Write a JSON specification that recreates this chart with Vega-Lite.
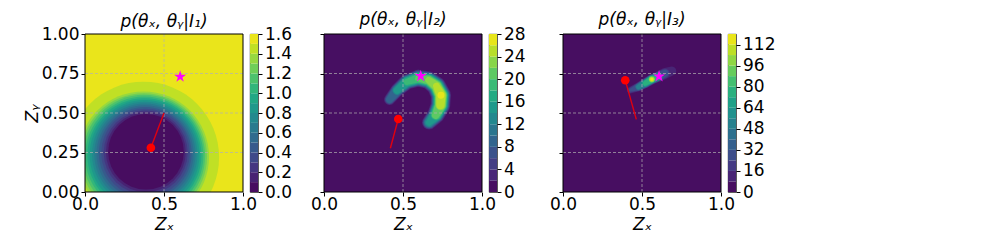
{
  "$schema": "https://vega.github.io/schema/vega-lite/v6.json",
  "padding": {"left": 23, "top": 10, "right": 5, "bottom": 5},
  "background": "white",
  "config": {
    "font": "DejaVu Sans",
    "view": {"stroke": null},
    "axis": {"labelFont": "DejaVu Sans", "labelFontSize": 17, "labelColor": "black", "titleFont": "DejaVu Sans", "titleFontSize": 17, "titleFontWeight": "normal", "titleFontStyle": "italic", "titleColor": "black", "tickColor": "black", "tickSize": 4, "tickWidth": 1, "domain": false, "grid": false, "labelFlush": false, "labelOverlap": false, "labelSeparation": -60, "labelBound": false},
    "title": {"font": "DejaVu Sans", "fontSize": 17, "fontWeight": "normal", "fontStyle": "italic", "color": "black", "anchor": "middle", "frame": "group"}
  },
  "spacing": 7,
  "bounds": "flush",
  "resolve": {"scale": {"x": "independent", "y": "independent", "color": "independent", "size": "independent"}},
  "hconcat": [
    {
      "width": 158, "height": 158,
      "title": {"text": "p(θₓ, θᵧ|I₁)", "offset": -5.5},
      "encoding": {
        "x": {"field": "x", "type": "quantitative", "scale": {"domain": [0, 1], "nice": false, "zero": false}, "axis": {"values": [0, 0.5, 1], "format": ".1f", "title": "Zₓ", "labelPadding": 0.5, "titlePadding": 4, "labelOverlap": false, "labelSeparation": -60}},
        "y": {"field": "y", "type": "quantitative", "scale": {"domain": [0, 1], "nice": false, "zero": false}, "axis": {"values": [0, 0.25, 0.5, 0.75, 1], "format": ".2f", "title": "Zᵧ", "labelPadding": 2, "titlePadding": 0, "labelOverlap": false, "labelSeparation": -60}}
      },
      "layer": [
        {"data": {"values": [
          {"x": 0.370, "y": 0.220, "r": 2.000, "v": 1.55},
          {"x": 0.370, "y": 0.220, "r": 0.540, "v": 1.45},
          {"x": 0.371, "y": 0.2225, "r": 0.4675, "v": 1.35},
          {"x": 0.372, "y": 0.225, "r": 0.452, "v": 1.25},
          {"x": 0.373, "y": 0.2275, "r": 0.437, "v": 1.15},
          {"x": 0.375, "y": 0.230, "r": 0.422, "v": 1.05},
          {"x": 0.376, "y": 0.2325, "r": 0.407, "v": 0.95},
          {"x": 0.377, "y": 0.235, "r": 0.392, "v": 0.85},
          {"x": 0.378, "y": 0.2375, "r": 0.376, "v": 0.75},
          {"x": 0.379, "y": 0.240, "r": 0.361, "v": 0.65},
          {"x": 0.380, "y": 0.2425, "r": 0.346, "v": 0.55},
          {"x": 0.381, "y": 0.245, "r": 0.331, "v": 0.45},
          {"x": 0.383, "y": 0.2475, "r": 0.316, "v": 0.35},
          {"x": 0.384, "y": 0.250, "r": 0.300, "v": 0.25},
          {"x": 0.385, "y": 0.2525, "r": 0.285, "v": 0.15},
          {"x": 0.386, "y": 0.255, "r": 0.270, "v": 0.05}
        ]},
         "mark": {"type": "point", "shape": "circle", "filled": true, "opacity": 1, "strokeWidth": 0, "clip": true},
         "encoding": {
           "size": {"field": "r", "type": "quantitative", "scale": {"type": "pow", "exponent": 2, "domain": [0, 1], "range": [0, 78430]}, "legend": null},
           "color": {"field": "v", "type": "quantitative", "scale": {"scheme": "viridis", "domain": [0, 1.6]}, "legend": null}
         }},
        {"data": {"values": [
          {"k": "a", "o": 0, "x": 0, "y": 0.25}, {"k": "a", "o": 1, "x": 1, "y": 0.25},
          {"k": "b", "o": 0, "x": 0, "y": 0.5}, {"k": "b", "o": 1, "x": 1, "y": 0.5},
          {"k": "c", "o": 0, "x": 0, "y": 0.75}, {"k": "c", "o": 1, "x": 1, "y": 0.75},
          {"k": "d", "o": 0, "x": 0.5, "y": 0}, {"k": "d", "o": 1, "x": 0.5, "y": 1}
        ]},
         "mark": {"type": "line", "color": "#b0b0b0", "opacity": 0.7, "strokeDash": [3, 2], "strokeWidth": 1},
         "encoding": {"detail": {"field": "k"}, "order": {"field": "o"}}},
        {"data": {"values": [{"x": 0.417, "y": 0.28, "o": 0}, {"x": 0.50, "y": 0.50, "o": 1}]}, "mark": {"type": "line", "color": "#e00010", "strokeWidth": 1.4}, "encoding": {"order": {"field": "o"}}},
        {"data": {"values": [{"x": 0.417, "y": 0.28}]}, "mark": {"type": "point", "shape": "circle", "filled": true, "color": "#ff0000", "opacity": 1, "size": 75}, "encoding": {}},
        {"data": {"values": [{"x": 0.602, "y": 0.73}]}, "mark": {"type": "point", "shape": "M0,-1L0.225,-0.309L0.951,-0.309L0.363,0.118L0.588,0.809L0,0.382L-0.588,0.809L-0.363,0.118L-0.951,-0.309L-0.225,-0.309Z", "filled": true, "color": "#ff00ff", "opacity": 1, "size": 160}, "encoding": {}},
        {"data": {"values": [{"o": 0, "x": 0, "y": 0}, {"o": 1, "x": 1, "y": 0}, {"o": 2, "x": 1, "y": 1}, {"o": 3, "x": 0, "y": 1}, {"o": 4, "x": 0, "y": 0}]}, "mark": {"type": "line", "color": "black", "strokeWidth": 1}, "encoding": {"order": {"field": "o"}}}
      ]
    },
    {
      "width": 8, "height": 158,
      "view": {"stroke": "black", "strokeWidth": 0.8},
      "data": {"values": [
        {"lo": 0.0, "hi": 0.1, "v": 0.05}, {"lo": 0.1, "hi": 0.2, "v": 0.15}, {"lo": 0.2, "hi": 0.3, "v": 0.25}, {"lo": 0.3, "hi": 0.4, "v": 0.35},
        {"lo": 0.4, "hi": 0.5, "v": 0.45}, {"lo": 0.5, "hi": 0.6, "v": 0.55}, {"lo": 0.6, "hi": 0.7, "v": 0.65}, {"lo": 0.7, "hi": 0.8, "v": 0.75},
        {"lo": 0.8, "hi": 0.9, "v": 0.85}, {"lo": 0.9, "hi": 1.0, "v": 0.95}, {"lo": 1.0, "hi": 1.1, "v": 1.05}, {"lo": 1.1, "hi": 1.2, "v": 1.15},
        {"lo": 1.2, "hi": 1.3, "v": 1.25}, {"lo": 1.3, "hi": 1.4, "v": 1.35}, {"lo": 1.4, "hi": 1.5, "v": 1.45}, {"lo": 1.5, "hi": 1.6, "v": 1.55}
      ]},
      "mark": {"type": "rect"},
      "encoding": {
        "x": {"datum": 0, "type": "quantitative", "scale": {"domain": [0, 1], "nice": false, "zero": false}, "axis": null},
        "x2": {"datum": 1},
        "y": {"field": "lo", "type": "quantitative", "scale": {"domain": [0, 1.6], "nice": false, "zero": false}, "axis": {"orient": "right", "values": [0, 0.2, 0.4, 0.6, 0.8, 1.0, 1.2, 1.4, 1.6], "format": ".1f", "title": null, "labelPadding": 2.5, "labelOverlap": false, "labelSeparation": -60}},
        "y2": {"field": "hi"},
        "color": {"field": "v", "type": "quantitative", "scale": {"scheme": "viridis", "domain": [0, 1.6]}, "legend": null}
      }
    },
    {"width": 52, "height": 158, "data": {"values": []}, "mark": "point", "encoding": {}},
    {
      "width": 158, "height": 158,
      "title": {"text": "p(θₓ, θᵧ|I₂)", "offset": 3.5},
      "encoding": {
        "x": {"field": "x", "type": "quantitative", "scale": {"domain": [0, 1], "nice": false, "zero": false}, "axis": {"values": [0, 0.5, 1], "format": ".1f", "title": "Zₓ", "labelPadding": 0.5, "titlePadding": 4, "labelOverlap": false, "labelSeparation": -60}},
        "y": {"field": "y", "type": "quantitative", "scale": {"domain": [0, 1], "nice": false, "zero": false}, "axis": {"values": [0, 0.25, 0.5, 0.75, 1], "labels": false, "title": null}}
      },
      "layer": [
        {"data": {"values": [
          {"v": 1, "o": 0, "x": 0.5, "y": 0.5, "w": 3}, {"v": 1, "o": 1, "x": 0.5, "y": 0.5, "w": 3},
          {"v": 3, "o": 1, "x": 0.415, "y": 0.585, "w": 0.070}, {"v": 3, "o": 2, "x": 0.462, "y": 0.643, "w": 0.084}, {"v": 3, "o": 3, "x": 0.525, "y": 0.697, "w": 0.096}, {"v": 3, "o": 4, "x": 0.597, "y": 0.720, "w": 0.106}, {"v": 3, "o": 5, "x": 0.662, "y": 0.708, "w": 0.112}, {"v": 3, "o": 6, "x": 0.712, "y": 0.670, "w": 0.120}, {"v": 3, "o": 7, "x": 0.740, "y": 0.612, "w": 0.128}, {"v": 3, "o": 8, "x": 0.737, "y": 0.549, "w": 0.124}, {"v": 3, "o": 9, "x": 0.708, "y": 0.488, "w": 0.110}, {"v": 3, "o": 10, "x": 0.665, "y": 0.440, "w": 0.090},
          {"v": 5, "o": 1, "x": 0.415, "y": 0.585, "w": 0.061}, {"v": 5, "o": 2, "x": 0.462, "y": 0.643, "w": 0.076}, {"v": 5, "o": 3, "x": 0.525, "y": 0.697, "w": 0.088}, {"v": 5, "o": 4, "x": 0.597, "y": 0.720, "w": 0.097}, {"v": 5, "o": 5, "x": 0.662, "y": 0.708, "w": 0.103}, {"v": 5, "o": 6, "x": 0.712, "y": 0.670, "w": 0.111}, {"v": 5, "o": 7, "x": 0.740, "y": 0.612, "w": 0.119}, {"v": 5, "o": 8, "x": 0.737, "y": 0.549, "w": 0.115}, {"v": 5, "o": 9, "x": 0.708, "y": 0.488, "w": 0.101}, {"v": 5, "o": 10, "x": 0.665, "y": 0.440, "w": 0.081},
          {"v": 7, "o": 1, "x": 0.415, "y": 0.585, "w": 0.053}, {"v": 7, "o": 2, "x": 0.462, "y": 0.643, "w": 0.070}, {"v": 7, "o": 3, "x": 0.525, "y": 0.697, "w": 0.081}, {"v": 7, "o": 4, "x": 0.597, "y": 0.720, "w": 0.091}, {"v": 7, "o": 5, "x": 0.662, "y": 0.708, "w": 0.097}, {"v": 7, "o": 6, "x": 0.712, "y": 0.670, "w": 0.104}, {"v": 7, "o": 7, "x": 0.740, "y": 0.612, "w": 0.112}, {"v": 7, "o": 8, "x": 0.737, "y": 0.549, "w": 0.108}, {"v": 7, "o": 9, "x": 0.708, "y": 0.488, "w": 0.094}, {"v": 7, "o": 10, "x": 0.665, "y": 0.440, "w": 0.074},
          {"v": 9, "o": 1, "x": 0.415, "y": 0.585, "w": 0.043}, {"v": 9, "o": 2, "x": 0.462, "y": 0.643, "w": 0.064}, {"v": 9, "o": 3, "x": 0.525, "y": 0.697, "w": 0.076}, {"v": 9, "o": 4, "x": 0.597, "y": 0.720, "w": 0.085}, {"v": 9, "o": 5, "x": 0.662, "y": 0.708, "w": 0.091}, {"v": 9, "o": 6, "x": 0.712, "y": 0.670, "w": 0.098}, {"v": 9, "o": 7, "x": 0.740, "y": 0.612, "w": 0.106}, {"v": 9, "o": 8, "x": 0.737, "y": 0.549, "w": 0.102}, {"v": 9, "o": 9, "x": 0.708, "y": 0.488, "w": 0.089}, {"v": 9, "o": 10, "x": 0.665, "y": 0.440, "w": 0.067},
          {"v": 11, "o": 2, "x": 0.462, "y": 0.643, "w": 0.058}, {"v": 11, "o": 3, "x": 0.525, "y": 0.697, "w": 0.070}, {"v": 11, "o": 4, "x": 0.597, "y": 0.720, "w": 0.079}, {"v": 11, "o": 5, "x": 0.662, "y": 0.708, "w": 0.086}, {"v": 11, "o": 6, "x": 0.712, "y": 0.670, "w": 0.093}, {"v": 11, "o": 7, "x": 0.740, "y": 0.612, "w": 0.101}, {"v": 11, "o": 8, "x": 0.737, "y": 0.549, "w": 0.097}, {"v": 11, "o": 9, "x": 0.708, "y": 0.488, "w": 0.083}, {"v": 11, "o": 10, "x": 0.665, "y": 0.440, "w": 0.060},
          {"v": 13, "o": 2, "x": 0.462, "y": 0.643, "w": 0.051}, {"v": 13, "o": 3, "x": 0.525, "y": 0.697, "w": 0.065}, {"v": 13, "o": 4, "x": 0.597, "y": 0.720, "w": 0.074}, {"v": 13, "o": 5, "x": 0.662, "y": 0.708, "w": 0.081}, {"v": 13, "o": 6, "x": 0.712, "y": 0.670, "w": 0.088}, {"v": 13, "o": 7, "x": 0.740, "y": 0.612, "w": 0.096}, {"v": 13, "o": 8, "x": 0.737, "y": 0.549, "w": 0.092}, {"v": 13, "o": 9, "x": 0.708, "y": 0.488, "w": 0.078}, {"v": 13, "o": 10, "x": 0.665, "y": 0.440, "w": 0.052},
          {"v": 15, "o": 2, "x": 0.462, "y": 0.643, "w": 0.042}, {"v": 15, "o": 3, "x": 0.525, "y": 0.697, "w": 0.058}, {"v": 15, "o": 4, "x": 0.597, "y": 0.720, "w": 0.068}, {"v": 15, "o": 5, "x": 0.662, "y": 0.708, "w": 0.075}, {"v": 15, "o": 6, "x": 0.712, "y": 0.670, "w": 0.083}, {"v": 15, "o": 7, "x": 0.740, "y": 0.612, "w": 0.091}, {"v": 15, "o": 8, "x": 0.737, "y": 0.549, "w": 0.087}, {"v": 15, "o": 9, "x": 0.708, "y": 0.488, "w": 0.073}, {"v": 15, "o": 10, "x": 0.665, "y": 0.440, "w": 0.039},
          {"v": 17, "o": 3, "x": 0.525, "y": 0.697, "w": 0.051}, {"v": 17, "o": 4, "x": 0.597, "y": 0.720, "w": 0.062}, {"v": 17, "o": 5, "x": 0.662, "y": 0.708, "w": 0.070}, {"v": 17, "o": 6, "x": 0.712, "y": 0.670, "w": 0.078}, {"v": 17, "o": 7, "x": 0.740, "y": 0.612, "w": 0.086}, {"v": 17, "o": 8, "x": 0.737, "y": 0.549, "w": 0.082}, {"v": 17, "o": 9, "x": 0.708, "y": 0.488, "w": 0.066},
          {"v": 19, "o": 3, "x": 0.525, "y": 0.697, "w": 0.038}, {"v": 19, "o": 4, "x": 0.597, "y": 0.720, "w": 0.054}, {"v": 19, "o": 5, "x": 0.662, "y": 0.708, "w": 0.063}, {"v": 19, "o": 6, "x": 0.712, "y": 0.670, "w": 0.072}, {"v": 19, "o": 7, "x": 0.740, "y": 0.612, "w": 0.081}, {"v": 19, "o": 8, "x": 0.737, "y": 0.549, "w": 0.076}, {"v": 19, "o": 9, "x": 0.708, "y": 0.488, "w": 0.059},
          {"v": 21, "o": 4, "x": 0.597, "y": 0.720, "w": 0.040}, {"v": 21, "o": 5, "x": 0.662, "y": 0.708, "w": 0.055}, {"v": 21, "o": 6, "x": 0.712, "y": 0.670, "w": 0.065}, {"v": 21, "o": 7, "x": 0.740, "y": 0.612, "w": 0.075}, {"v": 21, "o": 8, "x": 0.737, "y": 0.549, "w": 0.070}, {"v": 21, "o": 9, "x": 0.708, "y": 0.488, "w": 0.049},
          {"v": 23, "o": 5, "x": 0.662, "y": 0.708, "w": 0.041}, {"v": 23, "o": 6, "x": 0.712, "y": 0.670, "w": 0.057}, {"v": 23, "o": 7, "x": 0.740, "y": 0.612, "w": 0.068}, {"v": 23, "o": 8, "x": 0.737, "y": 0.549, "w": 0.063},
          {"v": 25, "o": 6, "x": 0.712, "y": 0.670, "w": 0.043}, {"v": 25, "o": 7, "x": 0.740, "y": 0.612, "w": 0.059}, {"v": 25, "o": 8, "x": 0.737, "y": 0.549, "w": 0.052},
          {"v": 27, "o": 7, "x": 0.740, "y": 0.612, "w": 0.044}, {"v": 27, "o": 8, "x": 0.740, "y": 0.612, "w": 0.044}
        ]},
         "mark": {"type": "trail", "opacity": 1, "clip": true},
         "encoding": {
           "size": {"field": "w", "type": "quantitative", "scale": {"domain": [0, 1], "range": [0, 158], "zero": true}, "legend": null},
           "color": {"field": "v", "type": "quantitative", "scale": {"scheme": "viridis", "domain": [0, 28]}, "legend": null},
           "order": {"field": "o", "type": "quantitative"}
         }},
        {"data": {"values": [
          {"k": "a", "o": 0, "x": 0, "y": 0.25}, {"k": "a", "o": 1, "x": 1, "y": 0.25},
          {"k": "b", "o": 0, "x": 0, "y": 0.5}, {"k": "b", "o": 1, "x": 1, "y": 0.5},
          {"k": "c", "o": 0, "x": 0, "y": 0.75}, {"k": "c", "o": 1, "x": 1, "y": 0.75},
          {"k": "d", "o": 0, "x": 0.5, "y": 0}, {"k": "d", "o": 1, "x": 0.5, "y": 1}
        ]},
         "mark": {"type": "line", "color": "#b0b0b0", "opacity": 0.7, "strokeDash": [3, 2], "strokeWidth": 1},
         "encoding": {"detail": {"field": "k"}, "order": {"field": "o"}}},
        {"data": {"values": [{"x": 0.47, "y": 0.462, "o": 0}, {"x": 0.42, "y": 0.277, "o": 1}]}, "mark": {"type": "line", "color": "#e00010", "strokeWidth": 1.4}, "encoding": {"order": {"field": "o"}}},
        {"data": {"values": [{"x": 0.47, "y": 0.462}]}, "mark": {"type": "point", "shape": "circle", "filled": true, "color": "#ff0000", "opacity": 1, "size": 75}, "encoding": {}},
        {"data": {"values": [{"x": 0.612, "y": 0.734}]}, "mark": {"type": "point", "shape": "M0,-1L0.225,-0.309L0.951,-0.309L0.363,0.118L0.588,0.809L0,0.382L-0.588,0.809L-0.363,0.118L-0.951,-0.309L-0.225,-0.309Z", "filled": true, "color": "#ff00ff", "opacity": 1, "size": 160}, "encoding": {}},
        {"data": {"values": [{"o": 0, "x": 0, "y": 0}, {"o": 1, "x": 1, "y": 0}, {"o": 2, "x": 1, "y": 1}, {"o": 3, "x": 0, "y": 1}, {"o": 4, "x": 0, "y": 0}]}, "mark": {"type": "line", "color": "black", "strokeWidth": 1}, "encoding": {"order": {"field": "o"}}}
      ]
    },
    {
      "width": 8, "height": 158,
      "view": {"stroke": "black", "strokeWidth": 0.8},
      "data": {"values": [
        {"lo": 0, "hi": 2, "v": 1}, {"lo": 2, "hi": 4, "v": 3}, {"lo": 4, "hi": 6, "v": 5}, {"lo": 6, "hi": 8, "v": 7}, {"lo": 8, "hi": 10, "v": 9},
        {"lo": 10, "hi": 12, "v": 11}, {"lo": 12, "hi": 14, "v": 13}, {"lo": 14, "hi": 16, "v": 15}, {"lo": 16, "hi": 18, "v": 17}, {"lo": 18, "hi": 20, "v": 19},
        {"lo": 20, "hi": 22, "v": 21}, {"lo": 22, "hi": 24, "v": 23}, {"lo": 24, "hi": 26, "v": 25}, {"lo": 26, "hi": 28, "v": 27}
      ]},
      "mark": {"type": "rect"},
      "encoding": {
        "x": {"datum": 0, "type": "quantitative", "scale": {"domain": [0, 1], "nice": false, "zero": false}, "axis": null},
        "x2": {"datum": 1},
        "y": {"field": "lo", "type": "quantitative", "scale": {"domain": [0, 28], "nice": false, "zero": false}, "axis": {"orient": "right", "values": [0, 4, 8, 12, 16, 20, 24, 28], "format": "d", "title": null, "labelPadding": 2.5, "labelOverlap": false, "labelSeparation": -60}},
        "y2": {"field": "hi"},
        "color": {"field": "v", "type": "quantitative", "scale": {"scheme": "viridis", "domain": [0, 28]}, "legend": null}
      }
    },
    {"width": 52, "height": 158, "data": {"values": []}, "mark": "point", "encoding": {}},
    {
      "width": 158, "height": 158,
      "title": {"text": "p(θₓ, θᵧ|I₃)", "offset": 3.5},
      "encoding": {
        "x": {"field": "x", "type": "quantitative", "scale": {"domain": [0, 1], "nice": false, "zero": false}, "axis": {"values": [0, 0.5, 1], "format": ".1f", "title": "Zₓ", "labelPadding": 0.5, "titlePadding": 4, "labelOverlap": false, "labelSeparation": -60}},
        "y": {"field": "y", "type": "quantitative", "scale": {"domain": [0, 1], "nice": false, "zero": false}, "axis": {"values": [0, 0.25, 0.5, 0.75, 1], "labels": false, "title": null}}
      },
      "layer": [
        {"data": {"values": [
          {"v": 4, "o": 0, "x": 0.5, "y": 0.5, "w": 3}, {"v": 4, "o": 1, "x": 0.5, "y": 0.5, "w": 3},
          {"v": 12, "o": 0, "x": 0.425, "y": 0.644, "w": 0.040}, {"v": 12, "o": 1, "x": 0.478, "y": 0.665, "w": 0.056}, {"v": 12, "o": 2, "x": 0.520, "y": 0.688, "w": 0.062}, {"v": 12, "o": 3, "x": 0.562, "y": 0.713, "w": 0.064}, {"v": 12, "o": 4, "x": 0.605, "y": 0.731, "w": 0.066}, {"v": 12, "o": 5, "x": 0.646, "y": 0.751, "w": 0.068}, {"v": 12, "o": 6, "x": 0.689, "y": 0.766, "w": 0.056},
          {"v": 20, "o": 0, "x": 0.425, "y": 0.644, "w": 0.032}, {"v": 20, "o": 1, "x": 0.478, "y": 0.665, "w": 0.050}, {"v": 20, "o": 2, "x": 0.520, "y": 0.688, "w": 0.057}, {"v": 20, "o": 3, "x": 0.562, "y": 0.713, "w": 0.059}, {"v": 20, "o": 4, "x": 0.605, "y": 0.731, "w": 0.060}, {"v": 20, "o": 5, "x": 0.646, "y": 0.751, "w": 0.057},
          {"v": 28, "o": 0, "x": 0.425, "y": 0.644, "w": 0.017}, {"v": 28, "o": 1, "x": 0.478, "y": 0.665, "w": 0.045}, {"v": 28, "o": 2, "x": 0.520, "y": 0.688, "w": 0.053}, {"v": 28, "o": 3, "x": 0.562, "y": 0.713, "w": 0.056}, {"v": 28, "o": 4, "x": 0.605, "y": 0.731, "w": 0.056}, {"v": 28, "o": 5, "x": 0.646, "y": 0.751, "w": 0.044},
          {"v": 36, "o": 1, "x": 0.478, "y": 0.665, "w": 0.041}, {"v": 36, "o": 2, "x": 0.520, "y": 0.688, "w": 0.049}, {"v": 36, "o": 3, "x": 0.562, "y": 0.713, "w": 0.053}, {"v": 36, "o": 4, "x": 0.605, "y": 0.731, "w": 0.052},
          {"v": 44, "o": 1, "x": 0.478, "y": 0.665, "w": 0.036}, {"v": 44, "o": 2, "x": 0.520, "y": 0.688, "w": 0.046}, {"v": 44, "o": 3, "x": 0.562, "y": 0.713, "w": 0.051}, {"v": 44, "o": 4, "x": 0.605, "y": 0.731, "w": 0.048},
          {"v": 52, "o": 1, "x": 0.478, "y": 0.665, "w": 0.029}, {"v": 52, "o": 2, "x": 0.520, "y": 0.688, "w": 0.043}, {"v": 52, "o": 3, "x": 0.562, "y": 0.713, "w": 0.048}, {"v": 52, "o": 4, "x": 0.605, "y": 0.731, "w": 0.044},
          {"v": 60, "o": 2, "x": 0.520, "y": 0.688, "w": 0.039}, {"v": 60, "o": 3, "x": 0.562, "y": 0.713, "w": 0.046}, {"v": 60, "o": 4, "x": 0.605, "y": 0.731, "w": 0.040},
          {"v": 68, "o": 2, "x": 0.520, "y": 0.688, "w": 0.035}, {"v": 68, "o": 3, "x": 0.562, "y": 0.713, "w": 0.044}, {"v": 68, "o": 4, "x": 0.605, "y": 0.731, "w": 0.034},
          {"v": 76, "o": 2, "x": 0.520, "y": 0.688, "w": 0.029}, {"v": 76, "o": 3, "x": 0.562, "y": 0.713, "w": 0.041}, {"v": 76, "o": 4, "x": 0.605, "y": 0.731, "w": 0.024},
          {"v": 84, "o": 3, "x": 0.562, "y": 0.713, "w": 0.039}, {"v": 84, "o": 4, "x": 0.562, "y": 0.713, "w": 0.039},
          {"v": 92, "o": 3, "x": 0.562, "y": 0.713, "w": 0.036}, {"v": 92, "o": 4, "x": 0.562, "y": 0.713, "w": 0.036},
          {"v": 100, "o": 3, "x": 0.562, "y": 0.713, "w": 0.033}, {"v": 100, "o": 4, "x": 0.562, "y": 0.713, "w": 0.033},
          {"v": 108, "o": 3, "x": 0.562, "y": 0.713, "w": 0.028}, {"v": 108, "o": 4, "x": 0.562, "y": 0.713, "w": 0.028},
          {"v": 116, "o": 3, "x": 0.562, "y": 0.713, "w": 0.020}, {"v": 116, "o": 4, "x": 0.562, "y": 0.713, "w": 0.020}
        ]},
         "mark": {"type": "trail", "opacity": 1, "clip": true},
         "encoding": {
           "size": {"field": "w", "type": "quantitative", "scale": {"domain": [0, 1], "range": [0, 158], "zero": true}, "legend": null},
           "color": {"field": "v", "type": "quantitative", "scale": {"scheme": "viridis", "domain": [0, 120]}, "legend": null},
           "order": {"field": "o", "type": "quantitative"}
         }},
        {"data": {"values": [
          {"k": "a", "o": 0, "x": 0, "y": 0.25}, {"k": "a", "o": 1, "x": 1, "y": 0.25},
          {"k": "b", "o": 0, "x": 0, "y": 0.5}, {"k": "b", "o": 1, "x": 1, "y": 0.5},
          {"k": "c", "o": 0, "x": 0, "y": 0.75}, {"k": "c", "o": 1, "x": 1, "y": 0.75},
          {"k": "d", "o": 0, "x": 0.5, "y": 0}, {"k": "d", "o": 1, "x": 0.5, "y": 1}
        ]},
         "mark": {"type": "line", "color": "#b0b0b0", "opacity": 0.7, "strokeDash": [3, 2], "strokeWidth": 1},
         "encoding": {"detail": {"field": "k"}, "order": {"field": "o"}}},
        {"data": {"values": [{"x": 0.394, "y": 0.707, "o": 0}, {"x": 0.464, "y": 0.46, "o": 1}]}, "mark": {"type": "line", "color": "#e00010", "strokeWidth": 1.4}, "encoding": {"order": {"field": "o"}}},
        {"data": {"values": [{"x": 0.394, "y": 0.707}]}, "mark": {"type": "point", "shape": "circle", "filled": true, "color": "#ff0000", "opacity": 1, "size": 75}, "encoding": {}},
        {"data": {"values": [{"x": 0.608, "y": 0.732}]}, "mark": {"type": "point", "shape": "M0,-1L0.225,-0.309L0.951,-0.309L0.363,0.118L0.588,0.809L0,0.382L-0.588,0.809L-0.363,0.118L-0.951,-0.309L-0.225,-0.309Z", "filled": true, "color": "#ff00ff", "opacity": 1, "size": 160}, "encoding": {}},
        {"data": {"values": [{"o": 0, "x": 0, "y": 0}, {"o": 1, "x": 1, "y": 0}, {"o": 2, "x": 1, "y": 1}, {"o": 3, "x": 0, "y": 1}, {"o": 4, "x": 0, "y": 0}]}, "mark": {"type": "line", "color": "black", "strokeWidth": 1}, "encoding": {"order": {"field": "o"}}}
      ]
    },
    {
      "width": 8, "height": 158,
      "view": {"stroke": "black", "strokeWidth": 0.8},
      "data": {"values": [
        {"lo": 0, "hi": 8, "v": 4}, {"lo": 8, "hi": 16, "v": 12}, {"lo": 16, "hi": 24, "v": 20}, {"lo": 24, "hi": 32, "v": 28}, {"lo": 32, "hi": 40, "v": 36},
        {"lo": 40, "hi": 48, "v": 44}, {"lo": 48, "hi": 56, "v": 52}, {"lo": 56, "hi": 64, "v": 60}, {"lo": 64, "hi": 72, "v": 68}, {"lo": 72, "hi": 80, "v": 76},
        {"lo": 80, "hi": 88, "v": 84}, {"lo": 88, "hi": 96, "v": 92}, {"lo": 96, "hi": 104, "v": 100}, {"lo": 104, "hi": 112, "v": 108}, {"lo": 112, "hi": 120, "v": 116}
      ]},
      "mark": {"type": "rect"},
      "encoding": {
        "x": {"datum": 0, "type": "quantitative", "scale": {"domain": [0, 1], "nice": false, "zero": false}, "axis": null},
        "x2": {"datum": 1},
        "y": {"field": "lo", "type": "quantitative", "scale": {"domain": [0, 120], "nice": false, "zero": false}, "axis": {"orient": "right", "values": [0, 16, 32, 48, 64, 80, 96, 112], "format": "d", "title": null, "labelPadding": 2.5, "labelOverlap": false, "labelSeparation": -60}},
        "y2": {"field": "hi"},
        "color": {"field": "v", "type": "quantitative", "scale": {"scheme": "viridis", "domain": [0, 120]}, "legend": null}
      }
    }
  ]
}
